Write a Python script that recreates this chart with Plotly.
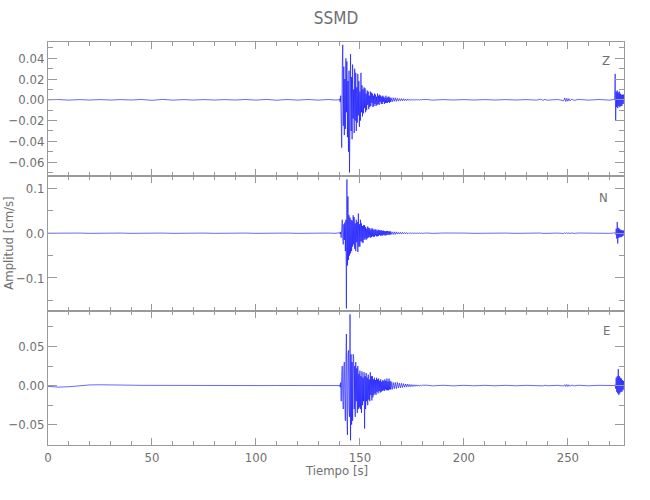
import plotly.graph_objects as go
from plotly.subplots import make_subplots

# ---------------- data ----------------
t_pre = [0, 5, 10, 15, 20, 25, 30, 35, 40, 45, 50, 55, 60, 65, 70, 75, 80, 85, 90, 95,
         100, 105, 110, 115, 120, 125, 130, 135, 138]
z_pre = [0.0, 0.0003, -0.0003, 0.0002, -0.0002, 0.0002, -0.0002, 0.0002, -0.0002, 0.0003,
         -0.0005, 0.0004, -0.0003, 0.0002, -0.0002, 0.0002, -0.0002, 0.0002, -0.0002, 0.0003,
         -0.0003, 0.0004, -0.0004, 0.0003, -0.0003, 0.0003, -0.0003, 0.0003, -0.0002]
n_pre = [0.0, 0.0004, -0.0004, 0.0003, -0.0003, 0.0004, -0.0004, 0.0003, -0.0003, 0.0004,
         -0.0004, 0.0003, -0.0003, 0.0004, -0.0004, 0.0003, -0.0003, 0.0004, -0.0004, 0.0003,
         -0.0003, 0.0004, -0.0004, 0.0003, -0.0003, 0.0004, -0.0004, 0.0003, -0.0003]
e_pre = [-0.0010, -0.0020, -0.0015, 0.0000, 0.0008, 0.0010, 0.0011, 0.0008, 0.0005, 0.0003,
         0.0002, 0.0001, 0.0001, 0.0000, 0.0001, 0.0000, 0.0001, 0.0000, 0.0001, 0.0000,
         0.0001, 0.0000, 0.0001, 0.0000, 0.0001, 0.0000, 0.0001, 0.0000, 0.0001]

# strong motion, one row per second
t_event = [140.00, 140.25, 140.50, 140.75,
           141.00, 141.25, 141.50, 141.75,
           142.00, 142.25, 142.50, 142.75,
           143.00, 143.25, 143.50, 143.75,
           144.00, 144.25, 144.50, 144.75,
           145.00, 145.25, 145.50, 145.75,
           146.00, 146.25, 146.50, 146.75,
           147.00, 147.25, 147.50, 147.75,
           148.00, 148.25, 148.50, 148.75,
           149.00, 149.25, 149.50, 149.75,
           150.00, 150.25, 150.50, 150.75,
           151.00, 151.25, 151.50, 151.75,
           152.00, 152.25, 152.50, 152.75,
           153.00, 153.25, 153.50, 153.75,
           154.00, 154.25, 154.50, 154.75,
           155.00, 155.25, 155.50, 155.75,
           156.00, 156.25, 156.50, 156.75,
           157.00, 157.25, 157.50, 157.75,
           158.00, 158.25, 158.50, 158.75,
           159.00, 159.25, 159.50, 159.75,
           160.00, 160.25, 160.50, 160.75,
           161.00, 161.25, 161.50, 161.75,
           162.00, 162.25, 162.50, 162.75,
           163.00, 163.25, 163.50, 163.75,
           164.00, 164.25, 164.50, 164.75,
           165.00]
z_event = [0.000, 0.001, -0.002, 0.004,
           -0.018, -0.046, 0.030, 0.053,
           -0.025, 0.032, -0.034, 0.020,
           -0.028, 0.040, -0.012, 0.037,
           -0.036, 0.018, -0.050, 0.028,
           -0.070, 0.015, 0.044, -0.030,
           0.022, -0.038, 0.034, -0.018,
           0.010, -0.032, 0.030, -0.020,
           0.026, -0.030, 0.012, -0.022,
           0.025, -0.015, 0.018, -0.026,
           0.008, -0.020, 0.026, -0.012,
           0.014, -0.016, 0.010, -0.013,
           0.012, -0.008, 0.011, -0.012,
           0.006, -0.010, 0.009, -0.005,
           0.008, -0.009, 0.004, -0.007,
           0.008, -0.006, 0.007, -0.003,
           0.006, -0.007, 0.004, -0.006,
           0.006, -0.004, 0.005, -0.006,
           0.003, -0.005, 0.006, -0.004,
           0.004, -0.005, 0.005, -0.002,
           0.004, -0.004, 0.003, -0.004,
           0.004, -0.002, 0.003, -0.004,
           0.002, -0.003, 0.004, -0.003,
           0.002, -0.003, 0.003, -0.002,
           0.003, -0.003, 0.002, -0.002,
           0.002]
n_event = [0.000, 0.001, -0.002, 0.003,
           -0.010, 0.008, 0.030, -0.012,
           -0.025, 0.020, -0.015, 0.024,
           -0.040, 0.030, -0.168, 0.120,
           -0.072, 0.082, -0.060, 0.040,
           -0.050, 0.035, -0.045, 0.030,
           -0.040, 0.028, -0.030, 0.040,
           -0.025, 0.036, -0.035, 0.022,
           -0.040, 0.030, -0.020, 0.025,
           -0.042, 0.044, -0.030, 0.020,
           -0.030, 0.030, -0.018, 0.022,
           -0.020, 0.016, -0.022, 0.018,
           -0.015, 0.018, -0.012, 0.014,
           -0.015, 0.010, -0.012, 0.015,
           -0.010, 0.012, -0.008, 0.011,
           -0.010, 0.008, -0.009, 0.011,
           -0.007, 0.010, -0.008, 0.007,
           -0.008, 0.009, -0.005, 0.008,
           -0.007, 0.006, -0.007, 0.008,
           -0.006, 0.007, -0.004, 0.006,
           -0.006, 0.007, -0.005, 0.005,
           -0.005, 0.006, -0.004, 0.005,
           -0.005, 0.004, -0.005, 0.005,
           -0.004, 0.005, -0.003, 0.004,
           -0.004, 0.004, -0.003, 0.004,
           -0.003]
e_event = [0.000, 0.001, -0.002, 0.004,
           -0.020, 0.012, 0.025, -0.015,
           -0.030, 0.022, 0.030, -0.020,
           -0.045, 0.030, 0.066, -0.040,
           -0.063, 0.040, 0.045, -0.030,
           -0.040, 0.091, -0.070, 0.040,
           -0.050, 0.030, -0.045, 0.040,
           0.036, -0.030, 0.025, -0.040,
           0.030, -0.020, 0.022, -0.035,
           0.025, -0.030, 0.015, -0.028,
           0.019, -0.030, 0.012, -0.035,
           0.018, -0.025, 0.010, -0.020,
           0.017, -0.055, 0.012, -0.030,
           0.016, -0.020, 0.010, -0.025,
           0.014, -0.018, 0.008, -0.020,
           0.017, -0.012, 0.012, -0.019,
           0.012, -0.015, 0.008, -0.012,
           0.010, -0.010, 0.007, -0.012,
           0.010, -0.008, 0.008, -0.010,
           0.009, -0.007, 0.006, -0.009,
           0.008, -0.008, 0.005, -0.007,
           0.007, -0.006, 0.006, -0.007,
           0.008, -0.005, 0.006, -0.006,
           0.009, -0.006, 0.005, -0.006,
           0.009, -0.005, 0.006, -0.005,
           0.005]

# coda
t_coda = [165.5, 166.0, 166.5, 167.0, 167.5, 168.0, 168.5, 169.0, 169.5, 170.0,
          170.5, 171.0, 171.5, 172.0, 172.5, 173.0, 173.5, 174.0, 174.5, 175.0,
          175.5, 176.0, 176.5, 177.0, 177.5, 178.0, 178.5, 179.0, 179.5, 180.0]
z_coda = [-0.002, 0.002, -0.0015, 0.002, -0.0015, 0.0015, -0.0012, 0.0012, -0.001, 0.0012,
          -0.001, 0.001, -0.0008, 0.0008, -0.0008, 0.0007, -0.0006, 0.0006, -0.0006, 0.0005,
          -0.0005, 0.0004, -0.0004, 0.0004, -0.0003, 0.0003, -0.0003, 0.0003, -0.0002, 0.0002]
n_coda = [0.003, -0.003, 0.003, -0.003, 0.003, -0.002, 0.002, -0.002, 0.002, -0.002,
          0.002, -0.0015, 0.0015, -0.0015, 0.0015, -0.0012, 0.0012, -0.001, 0.001, -0.001,
          0.001, -0.0008, 0.0008, -0.0008, 0.0007, -0.0006, 0.0006, -0.0005, 0.0005, -0.0004]
e_coda = [-0.005, 0.004, -0.004, 0.004, -0.004, 0.004, -0.003, 0.003, -0.003, 0.003,
          -0.0025, 0.0025, -0.002, 0.002, -0.002, 0.002, -0.0015, 0.0015, -0.0015, 0.0012,
          -0.0012, 0.001, -0.001, 0.001, -0.0008, 0.0008, -0.0007, 0.0006, -0.0005, 0.0004]

t_tail = [182, 185, 190, 195, 200, 205, 210, 215, 220, 225, 230, 235, 237, 238, 239, 240,
          245, 248, 248.5, 249, 249.5, 250, 250.5, 251, 252, 253, 255, 260, 265, 270, 272]
z_tail = [0.0003, -0.0003, 0.0002, -0.0002, 0.0002, -0.0002, 0.0002, -0.0002, 0.0002, -0.0002,
          0.0002, -0.0003, 0.0006, -0.0006, 0.0005, -0.0004, 0.0003, -0.0008, 0.0018, -0.0016,
          0.0015, -0.0014, 0.0012, -0.0010, 0.0008, -0.0006, 0.0004, -0.0003, 0.0003, -0.0003, 0.0003]
n_tail = [0.0005, -0.0004, 0.0004, -0.0004, 0.0003, -0.0003, 0.0003, -0.0003, 0.0003, -0.0003,
          0.0003, -0.0003, 0.0004, -0.0004, 0.0004, -0.0003, 0.0003, -0.0006, 0.0012, -0.0012,
          0.0014, -0.0012, 0.0010, -0.0008, 0.0006, -0.0005, 0.0004, -0.0003, 0.0003, -0.0003, 0.0003]
e_tail = [0.0005, -0.0004, 0.0004, -0.0004, 0.0003, -0.0003, 0.0003, -0.0003, 0.0003, -0.0003,
          0.0003, -0.0003, 0.0004, -0.0004, 0.0004, -0.0003, 0.0003, -0.0006, 0.0012, -0.0012,
          0.0014, -0.0012, 0.0010, -0.0008, 0.0006, -0.0005, 0.0004, -0.0003, 0.0003, -0.0003, 0.0003]

t_end = [272.5, 272.75, 273.0, 273.25, 273.5, 273.75, 274.0, 274.25, 274.5, 274.75,
         275.0, 275.25, 275.5, 275.75, 276.0, 276.25, 276.5, 276.75, 277.0]
z_end = [0.000, 0.025, -0.020, 0.008, -0.007, 0.009, -0.008, 0.007, -0.006, 0.008,
         -0.007, 0.006, -0.006, 0.005, -0.006, 0.005, -0.004, 0.005, -0.004]
n_end = [0.000, 0.001, -0.003, 0.010, -0.012, 0.025, -0.023, 0.012, -0.010, 0.010,
         -0.009, 0.008, -0.009, 0.007, -0.008, 0.006, -0.006, 0.006, -0.005]
e_end = [0.000, 0.001, -0.004, 0.010, -0.008, 0.012, -0.010, 0.021, -0.012, 0.012,
         -0.010, 0.010, -0.008, 0.009, -0.008, 0.007, -0.006, 0.006, -0.005]

components = ["Z", "N", "E"]
title = "SSMD"
x_title = "Tiempo [s]"
y_title = "Amplitud [cm/s]"
x_ticks = [0, 50, 100, 150, 200, 250]

# ---------------- figure ----------------
t_all = t_pre + t_event + t_coda + t_tail + t_end
series = [z_pre + z_event + z_coda + z_tail + z_end,
          n_pre + n_event + n_coda + n_tail + n_end,
          e_pre + e_event + e_coda + e_tail + e_end]

y_ranges = [[-0.0737, 0.0557], [-0.173, 0.127], [-0.076, 0.0958]]
y_dticks = [0.02, 0.1, 0.05]
y_minor = [0.01, 0.05, 0.025]
y_fmt = [".2f", ".1f", ".2f"]

fig = make_subplots(rows=3, cols=1, shared_xaxes=True, vertical_spacing=0)

axis_color = "#9a9a9a"
text_color = "#707070"
font_family = "DejaVu Sans Condensed, Liberation Sans Narrow, sans-serif"

for i, ys in enumerate(series):
    fig.add_trace(go.Scatter(x=t_all, y=ys, mode="lines",
                             line=dict(color="#0000ff", width=0.6),
                             showlegend=False, hoverinfo="skip"), row=i + 1, col=1)
    fig.update_yaxes(range=y_ranges[i], dtick=y_dticks[i], tick0=0, tickformat=y_fmt[i],
                     ticks="inside", ticklen=9, tickcolor=axis_color,
                     minor=dict(ticks="inside", ticklen=5, dtick=y_minor[i], tick0=0,
                                tickcolor=axis_color),
                     showline=True, linecolor=axis_color, linewidth=1, mirror="allticks",
                     showgrid=False, zeroline=False, automargin=False,
                     tickfont=dict(family=font_family, size=13, color=text_color),
                     row=i + 1, col=1)
    fig.update_xaxes(range=[0, 277], tickvals=x_ticks,
                     ticks="inside", ticklen=7, tickcolor=axis_color,
                     minor=dict(ticks="inside", ticklen=4, dtick=10, tick0=0,
                                tickcolor=axis_color),
                     showline=True, linecolor=axis_color, linewidth=1, mirror="allticks",
                     showgrid=False, zeroline=False, automargin=False,
                     showticklabels=(i == 2),
                     tickfont=dict(family=font_family, size=13, color=text_color),
                     row=i + 1, col=1)

label_pos = [(0.969, 0.955), (0.964, 0.615), (0.969, 0.283)]
annotations = []
for comp, (px, py) in zip(components, label_pos):
    annotations.append(dict(text=comp, x=px, y=py, xref="paper", yref="paper",
                            showarrow=False, xanchor="center", yanchor="middle",
                            font=dict(family=font_family, size=13, color=text_color)))
annotations.append(dict(text=y_title, x=-0.069, y=0.5, xref="paper", yref="paper",
                        textangle=-90, showarrow=False, xanchor="center", yanchor="middle",
                        font=dict(family=font_family, size=13, color=text_color)))
annotations.append(dict(text=x_title, x=0.5, y=-0.064, xref="paper", yref="paper",
                        showarrow=False, xanchor="center", yanchor="middle",
                        font=dict(family=font_family, size=13, color=text_color)))

fig.update_layout(
    width=650, height=500,
    margin=dict(l=48, r=26, t=42, b=55),
    paper_bgcolor="white", plot_bgcolor="white",
    title=dict(text=title, x=0.517, xanchor="center", y=0.964, yanchor="middle",
               font=dict(family=font_family, size=17, color=text_color)),
    annotations=annotations,
)

# remove the browser's default page margin so the figure fills the window exactly
fig.write_html("out.html", config={"displayModeBar": False},
               post_script="document.body.style.margin='0';")
